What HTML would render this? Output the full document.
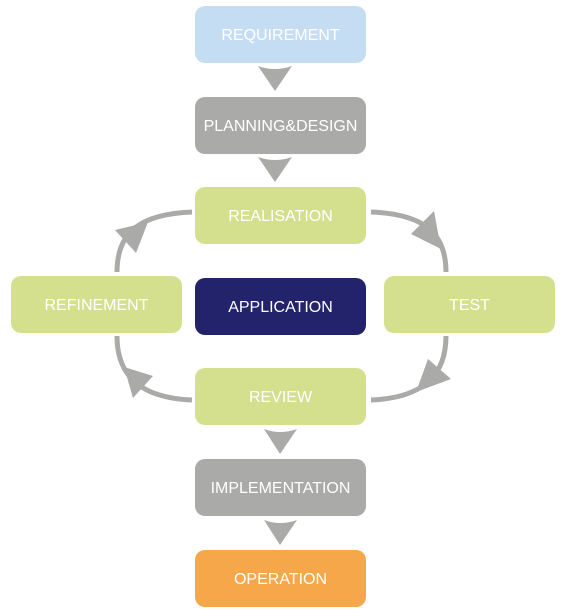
<!DOCTYPE html>
<html><head><style>
body{margin:0;width:565px;height:614px;background:#fff;position:relative;overflow:hidden;font-family:"Liberation Sans","DejaVu Sans",sans-serif}
.b{position:absolute;width:171px;height:57px;border-radius:10px;color:#fff;font-size:16px;display:flex;align-items:center;justify-content:center;padding-top:3px;box-sizing:border-box}
.g{background:#aaaaa9}.gr{background:#d4e08e}
svg{position:absolute;left:0;top:0}
</style></head><body>
<svg width="565" height="614" viewBox="0 0 565 614">
<g fill="#aaaaa9">
<path d="M258,66 Q275,72 292,66 L275,91 Z"/>
<path d="M258,157 Q275,163 292,157 L275,182 Z"/>
<path d="M264,429 Q280,435 297,429 L280,454 Z"/>
<path d="M264,520 Q280,526 297,520 L280,545 Z"/>
</g>
<g fill="none" stroke="#aaaaa9" stroke-width="5">
<path d="M371,212 C420,214 446,230 446,272"/>
<path d="M446,336 C446,378 420,398 371,400"/>
<path d="M192,400 C143,398 117,378 117,336"/>
<path d="M117,272 C117,230 143,214 192,212"/>
</g>
<g fill="#aaaaa9">
<path d="M434,211 L411,234 L441,249 Z"/>
<path d="M428,359 L451,379 L416,392 Z"/>
<path d="M124,367 L153,376 L133,398 Z"/>
<path d="M148,222 L115,230 L136,253 Z"/>
</g>
</svg>
<div class="b" style="left:195px;top:6px;background:#c5ddf3">REQUIREMENT</div>
<div class="b g" style="left:195px;top:97px">PLANNING&amp;DESIGN</div>
<div class="b gr" style="left:195px;top:187px">REALISATION</div>
<div class="b" style="left:195px;top:278px;background:#23236b">APPLICATION</div>
<div class="b gr" style="left:11px;top:276px">REFINEMENT</div>
<div class="b gr" style="left:384px;top:276px">TEST</div>
<div class="b gr" style="left:195px;top:368px">REVIEW</div>
<div class="b g" style="left:195px;top:459px">IMPLEMENTATION</div>
<div class="b" style="left:195px;top:550px;background:#f6a74a">OPERATION</div>
</body></html>
